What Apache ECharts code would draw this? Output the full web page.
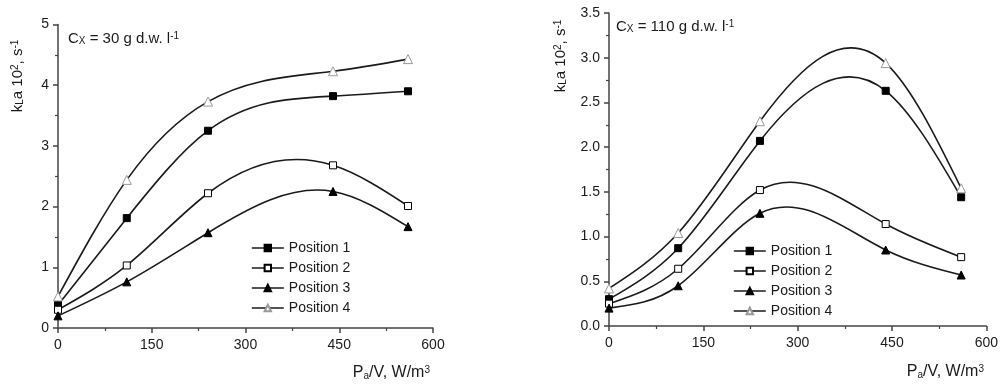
<!DOCTYPE html>
<html>
<head>
<meta charset="utf-8">
<script src="https://cdn.jsdelivr.net/npm/echarts@6/dist/echarts.min.js"></script>
<style>
  html, body { margin: 0; padding: 0; background: #fff; }
  #chart { width: 1001px; height: 388px; }
</style>
</head>
<body>
<div id="chart"></div>
<script>
// power input P_a/V, W/m3
const powerInput = [0, 110, 240, 440, 560];
const seriesNames = ["Position 1", "Position 2", "Position 3", "Position 4"];

// C_x = 30 g d.w. l-1
const low1 = [0.38, 1.81, 3.25, 3.82, 3.90];
const low2 = [0.30, 1.03, 2.22, 2.68, 2.01];
const low3 = [0.20, 0.76, 1.57, 2.25, 1.67];
const low4 = [0.52, 2.44, 3.73, 4.23, 4.43];

// C_x = 110 g d.w. l-1
const high1 = [0.30, 0.87, 2.07, 2.63, 1.44];
const high2 = [0.25, 0.64, 1.52, 1.14, 0.77];
const high3 = [0.20, 0.45, 1.26, 0.85, 0.57];
const high4 = [0.42, 1.04, 2.29, 2.94, 1.54];

const xTicks = [0, 150, 300, 450, 600];

const font = "'Liberation Sans', Arial, sans-serif";
const ink = "#1a1a1a";

const markers = [
  { symbol: "rect", symbolSize: 7, itemStyle: { color: "#000", borderColor: "#000", borderWidth: 1 } },
  { symbol: "rect", symbolSize: 7, itemStyle: { color: "#fff", borderColor: "#000", borderWidth: 1 } },
  { symbol: "triangle", symbolSize: 8, itemStyle: { color: "#000", borderColor: "#000", borderWidth: 1 } },
  { symbol: "triangle", symbolSize: 9, itemStyle: { color: "#fff", borderColor: "#999", borderWidth: 1 } },
];

const richText = {
  sub: { fontSize: 10, verticalAlign: "bottom", fontFamily: font, color: ink },
  sup: { fontSize: 10, verticalAlign: "top", fontFamily: font, color: ink },
};

// slopes of a natural cubic spline through the points (the curve style of the plot)
const splineSlopes = (xs, ys) => {
  const n = xs.length - 1;
  const h = [], d = [];
  for (let i = 0; i < n; i++) {
    h.push(xs[i + 1] - xs[i]);
    d.push((ys[i + 1] - ys[i]) / h[i]);
  }
  // tridiagonal solve for second derivatives, M0 = Mn = 0
  const M = new Array(n + 1).fill(0);
  const a = [], b = [], c = [], r = [];
  for (let i = 1; i < n; i++) {
    a.push(h[i - 1]);
    b.push(2 * (h[i - 1] + h[i]));
    c.push(h[i]);
    r.push(6 * (d[i] - d[i - 1]));
  }
  const m = b.length;
  for (let i = 1; i < m; i++) {
    const w = a[i] / b[i - 1];
    b[i] -= w * c[i - 1];
    r[i] -= w * r[i - 1];
  }
  for (let i = m - 1; i >= 0; i--) {
    M[i + 1] = (r[i] - (i < m - 1 ? c[i] * M[i + 2] : 0)) / b[i];
  }
  const s = [];
  for (let i = 0; i < n; i++) s.push(d[i] - (h[i] * (2 * M[i] + M[i + 1])) / 6);
  s.push(d[n - 1] + (h[n - 1] * (M[n - 1] + 2 * M[n])) / 6);
  return s;
};

const curveSeries = (vals, idx) => ({
  type: "custom",
  coordinateSystem: "cartesian2d",
  xAxisIndex: idx,
  yAxisIndex: idx,
  silent: true,
  z: 2,
  data: powerInput.map((x, j) => [x, vals[j]]),
  renderItem: (params, api) => {
    if (params.dataIndex !== 0) return null;
    const s = splineSlopes(powerInput, vals);
    const p0 = api.coord([powerInput[0], vals[0]]);
    let path = "M" + p0[0] + " " + p0[1];
    for (let i = 0; i < powerInput.length - 1; i++) {
      const h = (powerInput[i + 1] - powerInput[i]) / 3;
      const c1 = api.coord([powerInput[i] + h, vals[i] + s[i] * h]);
      const c2 = api.coord([powerInput[i + 1] - h, vals[i + 1] - s[i + 1] * h]);
      const p = api.coord([powerInput[i + 1], vals[i + 1]]);
      path += " C" + c1.join(" ") + " " + c2.join(" ") + " " + p.join(" ");
    }
    return {
      type: "path",
      shape: { pathData: path },
      style: { stroke: ink, lineWidth: 1.6, fill: "none" },
    };
  },
});

const makeSeries = (data, idx) => [
  ...data.map((vals) => curveSeries(vals, idx)),
  ...data.map((vals, i) => ({
    name: seriesNames[i],
    type: "line",
    xAxisIndex: idx,
    yAxisIndex: idx,
    data: powerInput.map((x, j) => [x, vals[j]]),
    lineStyle: { opacity: 0 },
    symbol: markers[i].symbol,
    symbolSize: markers[i].symbolSize,
    itemStyle: markers[i].itemStyle,
    z: 3 + i,
  })),
];

const xAxisCommon = {
  type: "value",
  min: xTicks[0],
  max: xTicks[xTicks.length - 1],
  interval: 150,
  axisLine: { lineStyle: { color: "#444", width: 1.5 } },
  axisTick: { inside: false, length: 5, lineStyle: { color: "#444", width: 1.5 } },
  minorTick: { show: true, splitNumber: 2, length: 3, lineStyle: { color: "#444", width: 1.2 } },
  splitLine: { show: false },
  axisLabel: { fontSize: 14, color: ink, fontFamily: font, margin: 10 },
};

const yAxisCommon = {
  type: "value",
  min: 0,
  axisLine: { show: true, lineStyle: { color: "#444", width: 1.5 } },
  axisTick: { show: true, inside: false, length: 5, lineStyle: { color: "#444", width: 1.5 } },
  minorTick: { show: true, splitNumber: 2, length: 3, lineStyle: { color: "#444", width: 1.2 } },
  splitLine: { show: false },
  axisLabel: { fontSize: 14, color: ink, fontFamily: font, margin: 9 },
};

const legendCommon = {
  orient: "vertical",
  data: seriesNames,
  padding: 0,
  itemWidth: 32,
  itemHeight: 8,
  itemGap: 6,
  lineStyle: { color: ink, width: 1.6, opacity: 1 },
  textStyle: { fontSize: 14, color: ink, fontFamily: font },
};

const yName = (x, y) => ({
  type: "text",
  x,
  y,
  rotation: Math.PI / 2,
  style: {
    text: "k{sub|L}a 10{sup|2}, s{sup|-1}",
    fontSize: 15,
    fontFamily: font,
    fill: ink,
    align: "center",
    verticalAlign: "middle",
    rich: richText,
  },
});

const xName = (x, y) => ({
  type: "text",
  x,
  y,
  style: {
    text: "P{sub|a}/V, W/m{sup|3}",
    fontSize: 16,
    fontFamily: font,
    fill: ink,
    align: "right",
    verticalAlign: "middle",
    rich: richText,
  },
});

const chart = echarts.init(document.getElementById("chart"), null, { renderer: "canvas" });

chart.setOption({
  backgroundColor: "#fff",
  animation: false,
  title: [
    {
      text: "C{sub|X} = 30 g d.w. l{sup|-1}",
      left: 68,
      top: 31,
      padding: 0,
      textStyle: { fontSize: 15, fontWeight: "normal", color: ink, fontFamily: font, rich: richText },
    },
    {
      text: "C{sub|X} = 110 g d.w. l{sup|-1}",
      left: 616,
      top: 19,
      padding: 0,
      textStyle: { fontSize: 15, fontWeight: "normal", color: ink, fontFamily: font, rich: richText },
    },
  ],
  grid: [
    { left: 58, top: 24.5, width: 375, height: 303.5 },
    { left: 609, top: 13, width: 380, height: 313 },
  ],
  xAxis: [
    { ...xAxisCommon, gridIndex: 0 },
    { ...xAxisCommon, gridIndex: 1 },
  ],
  yAxis: [
    { ...yAxisCommon, gridIndex: 0, max: 5, interval: 1 },
    {
      ...yAxisCommon,
      gridIndex: 1,
      max: 3.5,
      interval: 0.5,
      axisLabel: { ...yAxisCommon.axisLabel, formatter: (v) => v.toFixed(1) },
    },
  ],
  legend: [
    { ...legendCommon, left: 251, top: 241 },
    { ...legendCommon, left: 733, top: 244 },
  ],
  graphic: [yName(18, 76), yName(561, 56), xName(430, 373), xName(984, 372)],
  series: [
    ...makeSeries([low1, low2, low3, low4], 0),
    ...makeSeries([high1, high2, high3, high4], 1),
  ],
});
</script>
</body>
</html>
